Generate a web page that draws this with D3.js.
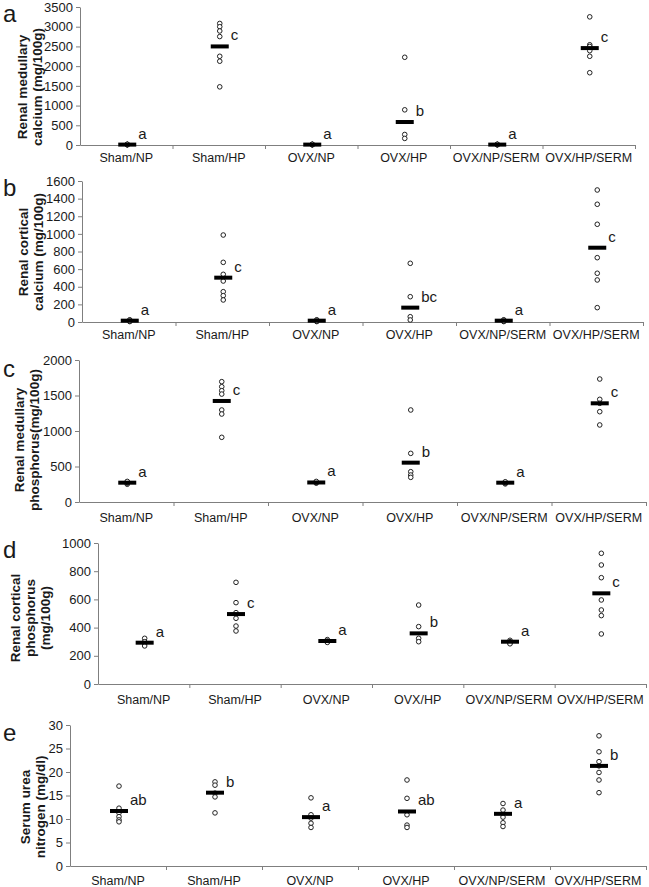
<!DOCTYPE html>
<html>
<head>
<meta charset="utf-8">
<script src="https://cdn.jsdelivr.net/npm/d3@7"></script>
<style>
  html, body { margin: 0; padding: 0; background: #fff; }
  svg { display: block; font-family: "Liberation Sans", Arial, sans-serif; }
</style>
</head>
<body>
<svg id="chart" width="649" height="887"></svg>
<script>
// ---------- DATA ----------
const categories = ["Sham/NP", "Sham/HP", "OVX/NP", "OVX/HP", "OVX/NP/SERM", "OVX/HP/SERM"];

// (a) Renal medullary calcium (mg/100g)
const medCaPoints = [
  [5, 10, 15, 8, 12, 20],
  [3083, 3000, 2892, 2750, 2250, 2125, 1475],
  [5, 10, 15, 8, 12, 20],
  [2225, 892, 267, 167],
  [5, 10, 15, 8, 12, 20],
  [3250, 2542, 2500, 2392, 2250, 1833]
];
const medCaMeans = [10, 2500, 10, 583, 10, 2458];
const medCaLetters = ["a", "c", "a", "b", "a", "c"];
const medCaTicks = [0, 500, 1000, 1500, 2000, 2500, 3000, 3500];

// (b) Renal cortical calcium (mg/100g)
const corCaPoints = [
  [5, 10, 15, 20, 25, 12],
  [987, 677, 541, 465, 344, 299, 250],
  [5, 10, 15, 20, 25, 12],
  [666, 287, 60, 23],
  [5, 10, 15, 20, 25, 12],
  [1498, 1336, 1109, 730, 553, 477, 163]
];
const corCaMeans = [15, 503, 15, 163, 15, 843];
const corCaLetters = ["a", "c", "a", "bc", "a", "c"];
const corCaTicks = [0, 200, 400, 600, 800, 1000, 1200, 1400, 1600];

// (c) Renal medullary phosphorus (mg/100g)
const medPPoints = [
  [250, 265, 275, 285, 290],
  [1695, 1624, 1568, 1520, 1296, 1239, 911],
  [265, 275, 280, 290],
  [1296, 685, 427, 380, 347],
  [255, 265, 275, 285],
  [1732, 1446, 1390, 1272, 1085]
];
const medPMeans = [272, 1423, 275, 554, 272, 1390];
const medPLetters = ["a", "c", "a", "b", "a", "c"];
const medPTicks = [0, 500, 1000, 1500, 2000];

// (d) Renal cortical phosphorus (mg/100g)
const corPPoints = [
  [324, 300, 285, 270],
  [721, 577, 506, 466, 411, 376],
  [315, 305, 300, 295],
  [560, 407, 324, 300],
  [310, 300, 290, 285],
  [927, 844, 754, 596, 525, 485, 355]
];
const corPMeans = [293, 496, 305, 359, 300, 643];
const corPLetters = ["a", "c", "a", "b", "a", "c"];
const corPTicks = [0, 200, 400, 600, 800, 1000];

// (e) Serum urea nitrogen (mg/dl)
const bunPoints = [
  [17.0, 12.3, 11.3, 10.5, 9.8, 9.4],
  [17.9, 17.2, 15.5, 14.7, 11.3],
  [14.5, 10.9, 10.2, 9.1, 8.2],
  [18.3, 14.4, 10.9, 8.7, 8.2],
  [13.3, 11.9, 10.4, 9.2, 8.4],
  [27.7, 24.3, 22.2, 21.3, 19.9, 18.3, 15.6]
];
const bunMeans = [11.7, 15.6, 10.4, 11.6, 11.1, 21.3];
const bunLetters = ["ab", "b", "a", "ab", "a", "b"];
const bunTicks = [0, 5, 10, 15, 20, 25, 30];

const panelLetters = ["a", "b", "c", "d", "e"];
const yTitles = [
  ["Renal medullary", "calcium (mg/100g)"],
  ["Renal cortical", "calcium (mg/100g)"],
  ["Renal medullary", "phosphorus(mg/100g)"],
  ["Renal cortical", "phosphorus", "(mg/100g)"],
  ["Serum urea", "nitrogen (mg/dl)"]
];

// ---------- LAYOUT ----------
const panels = [
  { pts: medCaPoints, means: medCaMeans, letters: medCaLetters, ticks: medCaTicks,
    x0: 80, x1: 635, yTop: 7, yBot: 145, labDy: 17, titleX: [22, 37], titleY: 87, letterY: 22 },
  { pts: corCaPoints, means: corCaMeans, letters: corCaLetters, ticks: corCaTicks,
    x0: 82, x1: 643, yTop: 181, yBot: 322, labDy: 17, titleX: [23, 38], titleY: 252, letterY: 196 },
  { pts: medPPoints, means: medPMeans, letters: medPLetters, ticks: medPTicks,
    x0: 79, x1: 646, yTop: 360, yBot: 502, labDy: 20, titleX: [19, 34], titleY: 440, letterY: 377 },
  { pts: corPPoints, means: corPMeans, letters: corPLetters, ticks: corPTicks,
    x0: 98, x1: 646, yTop: 543, yBot: 684, labDy: 20, titleX: [15, 30, 45], titleY: 618, letterY: 558 },
  { pts: bunPoints, means: bunMeans, letters: bunLetters, ticks: bunTicks,
    x0: 70, x1: 646, yTop: 725, yBot: 866, labDy: 19, titleX: [25, 40], titleY: 807, letterY: 741 }
];

const svg = d3.select("#chart");
const axisColor = "#7f7f7f";

panels.forEach((p, pi) => {
  const g = svg.append("g");
  const x = d3.scaleBand().domain(categories).range([p.x0, p.x1]).paddingInner(0).paddingOuter(0);
  const xb = d3.scaleLinear().domain([0, categories.length]).range([p.x0, p.x1]);
  const y = d3.scaleLinear().domain([0, d3.max(p.ticks)]).range([p.yBot, p.yTop]);

  // y axis
  const ya = g.append("g").attr("transform", `translate(${p.x0},0)`)
    .call(d3.axisLeft(y).tickValues(p.ticks).tickFormat(d3.format("d")).tickSize(4).tickSizeOuter(0).tickPadding(3));
  ya.select(".domain").attr("stroke", axisColor);
  ya.selectAll(".tick line").attr("stroke", axisColor);
  ya.selectAll(".tick text").attr("fill", "#1a1a1a").style("font-size", "13px")
    .style("font-family", "'Liberation Sans', Arial, sans-serif");

  // x axis (ticks at category boundaries)
  const xa = g.append("g").attr("transform", `translate(0,${p.yBot})`)
    .call(d3.axisBottom(xb).tickValues(d3.range(1, categories.length + 1)).tickFormat("").tickSize(4).tickSizeOuter(0));
  xa.select(".domain").attr("stroke", axisColor);
  xa.selectAll(".tick line").attr("stroke", axisColor);

  // category labels
  g.selectAll(".cat").data(categories).join("text")
    .attr("x", d => x(d) + x.bandwidth() / 2)
    .attr("y", p.yBot + p.labDy)
    .attr("text-anchor", "middle")
    .style("font-size", "12.5px")
    .attr("fill", "#1a1a1a")
    .text(d => d);

  // points
  categories.forEach((c, ci) => {
    const cx = x(c) + x.bandwidth() / 2 + 1;
    g.selectAll(null).data(p.pts[ci]).join("circle")
      .attr("cx", cx)
      .attr("cy", d => y(d))
      .attr("r", 2.3)
      .attr("fill", "#fff")
      .attr("stroke", "#222")
      .attr("stroke-width", 1);
  });

  // mean bars
  g.selectAll(".mean").data(p.means).join("rect")
    .attr("x", (d, i) => x(categories[i]) + x.bandwidth() / 2 + 1 - 9)
    .attr("y", d => y(d) - 2)
    .attr("width", 18)
    .attr("height", 4)
    .attr("fill", "#000");

  // significance letters
  g.selectAll(".sig").data(p.letters).join("text")
    .attr("x", (d, i) => x(categories[i]) + x.bandwidth() / 2 + 12)
    .attr("y", (d, i) => y(p.means[i]) - 6)
    .style("font-size", "15px")
    .attr("fill", "#1a1a1a")
    .text(d => d);

  // y title
  const lines = yTitles[pi];
  lines.forEach((ln, li) => {
    g.append("text")
      .attr("transform", `translate(${p.titleX[li]},${p.titleY}) rotate(-90)`)
      .attr("text-anchor", "middle")
      .attr("dominant-baseline", "central")
      .style("font-size", "13.5px")
      .style("font-weight", "bold")
      .attr("fill", "#1a1a1a")
      .text(ln);
  });

  // panel letter
  g.append("text")
    .attr("x", 3)
    .attr("y", p.letterY)
    .style("font-size", "24px")
    .attr("fill", "#1a1a1a")
    .text(panelLetters[pi]);
});
</script>
</body>
</html>
